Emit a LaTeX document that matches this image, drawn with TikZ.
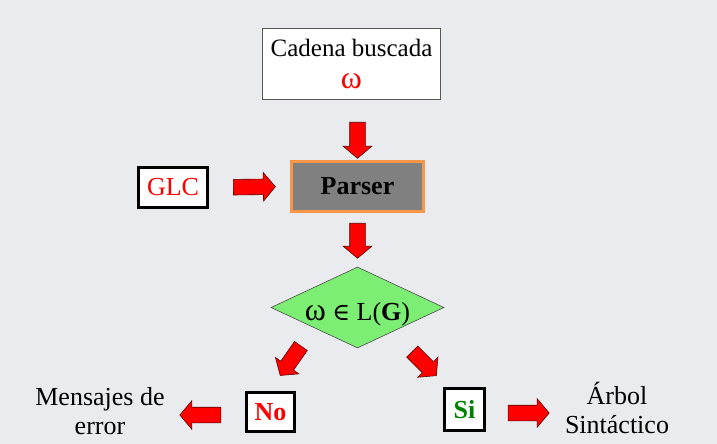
\documentclass[tikz,border=0pt]{standalone}
\usepackage{fontspec}
\setmainfont{Liberation Serif}
\newfontfamily\symfont{DejaVu Serif}
\usetikzlibrary{shapes.geometric,shapes.arrows,calc}
\definecolor{bg}{RGB}{233,235,239}
\definecolor{arrred}{RGB}{255,0,0}
\definecolor{arredge}{RGB}{90,0,0}
\definecolor{diagreen}{RGB}{124,238,116}
\definecolor{parsergray}{RGB}{128,128,128}
\definecolor{parserorange}{RGB}{247,150,70}
\definecolor{sigreen}{RGB}{0,128,0}
\begin{document}
\begin{tikzpicture}[x=1pt,y=-1pt,
  bigfont/.style={font=\fontsize{26}{29}\selectfont},
  txt/.style={bigfont, inner sep=0pt, align=center},
  thickbox/.style={draw=black, line width=3pt, fill=white, inner sep=0pt},
  blockarrow/.style={single arrow, draw=arredge, fill=arrred, line width=0.6pt,
     inner xsep=0pt, inner ysep=7.5pt, single arrow head extend=6.5pt,
     single arrow head indent=0pt, single arrow tip angle=100,
     minimum height=#1, sloped, allow upside down, anchor=center},
  blockarrow/.default=36pt
]
\fill[bg] (0,0) rectangle (717,444);
\useasboundingbox (0,0) rectangle (717,444);

% boxes
\node[draw=gray!70!black, line width=1pt, fill=white, minimum width=178pt,
      minimum height=71pt, inner sep=0pt, align=center,
      font=\fontsize{25}{32}\selectfont] (cad) at (351.5,64)
      {Cadena buscada\\\textcolor{red}{\fontsize{32}{32}\selectfont ω}};
\node[draw=parserorange, fill=parsergray, line width=3pt, minimum width=132pt,
      minimum height=50pt, inner sep=0pt, font=\fontsize{26}{29}\selectfont\bfseries]
      (parser) at (357.5,186.5) {Parser};
\node[thickbox, minimum width=69pt, minimum height=40pt, text=red, bigfont]
      (glc) at (173,187.5) {GLC};
\node[diamond, draw=gray!60!black, line width=0.6pt, fill=diagreen,
      minimum width=173pt, minimum height=81pt, inner sep=0pt, aspect=2.14]
      (dia) at (357.5,307.5) {};
\node[txt] (diatxt) at (357.5,314)
      {{\fontsize{32}{32}\selectfont ω} {\symfont\fontsize{24}{24}\selectfont∈} L(\textbf{G})};
\node[thickbox, minimum width=48pt, minimum height=39pt, text=red,
      font=\fontsize{26}{29}\selectfont\bfseries] (no) at (270.5,412) {No};
\node[thickbox, minimum width=40pt, minimum height=42pt, text=sigreen,
      font=\fontsize{26}{29}\selectfont\bfseries] (si) at (464.5,409.5) {Si};
\node[txt] (mens) at (100,411) {Mensajes de\\error};
\node[txt] (arb) at (617,408) {Árbol\\Sintáctico};

% block arrows
\path (cad.south -| parser.north) -- node[blockarrow=36pt, pos=0.617]{} (parser.north);
\path (parser.south) -- node[blockarrow=35pt, pos=0.456]{} (dia.north);
\path (glc.east) -- node[blockarrow=42pt, pos=0.52]{} (parser.west);
\coordinate (ltail) at (302.8,343.3);
\coordinate (ltip) at (282.1,372.8);
\path (ltail) -- node[blockarrow=36pt]{} (ltip);
\coordinate (rtail) at (410,349.3);
\coordinate (rtip) at (434,373.3);
\path (rtail) -- node[blockarrow=34pt]{} (rtip);
\path ([yshift=-3pt]no.west) -- node[blockarrow=41pt, pos=0.516]{} ([yshift=-3pt]no.west -| mens.east);
\path ([yshift=-3.5pt]si.east) -- node[blockarrow=41pt, pos=0.5]{} ([yshift=-3.5pt]si.east -| arb.west);
\end{tikzpicture}
\end{document}
